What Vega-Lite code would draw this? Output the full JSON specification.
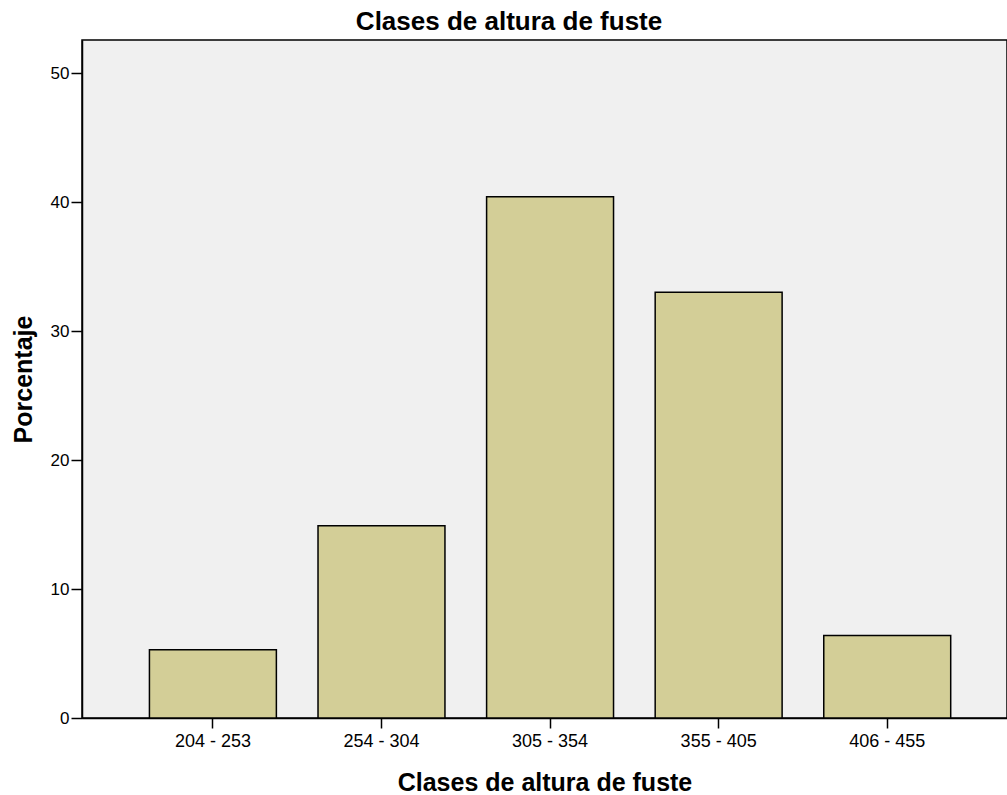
{
  "$schema": "https://vega.github.io/schema/vega-lite/v6.json",
  "autosize": "none",
  "width": 925,
  "height": 678,
  "padding": {"left": 82, "top": 40, "right": 0, "bottom": 77},
  "background": "white",
  "title": {
    "text": "Clases de altura de fuste",
    "font": "Liberation Sans",
    "fontSize": 26,
    "fontWeight": "bold",
    "color": "black",
    "anchor": "middle",
    "frame": "bounds",
    "offset": 5
  },
  "config": {
    "view": {"fill": "#f0f0f0", "stroke": "black", "strokeWidth": 1.5},
    "axis": {
      "labelFont": "Liberation Sans",
      "titleFont": "Liberation Sans",
      "labelColor": "black",
      "titleColor": "black",
      "domainColor": "black",
      "tickColor": "black",
      "domainWidth": 1.5,
      "tickWidth": 1.5,
      "grid": false
    }
  },
  "data": {
    "values": [
      {"clase": "204 - 253", "porcentaje": 5.3},
      {"clase": "254 - 304", "porcentaje": 14.9},
      {"clase": "305 - 354", "porcentaje": 40.4},
      {"clase": "355 - 405", "porcentaje": 33.0},
      {"clase": "406 - 455", "porcentaje": 6.4}
    ]
  },
  "mark": {"type": "bar", "fill": "#d3ce97", "stroke": "black", "strokeWidth": 1.5},
  "encoding": {
    "x": {
      "field": "clase",
      "type": "nominal",
      "sort": null,
      "scale": {"paddingInner": 0.247, "paddingOuter": 0.367, "align": 0.545},
      "axis": {
        "title": "Clases de altura de fuste",
        "titleFontSize": 25,
        "titleFontWeight": "bold",
        "titlePadding": 20,
        "labelAngle": 0,
        "labelFontSize": 18,
        "tickSize": 10,
        "labelPadding": 4
      }
    },
    "y": {
      "field": "porcentaje",
      "type": "quantitative",
      "scale": {"domain": [0, 52.56], "nice": false},
      "axis": {
        "title": "Porcentaje",
        "titleFontSize": 25,
        "titleFontWeight": "bold",
        "titlePadding": 14,
        "values": [0, 10, 20, 30, 40, 50],
        "labelFontSize": 17,
        "tickSize": 11,
        "labelPadding": 2
      }
    }
  }
}
